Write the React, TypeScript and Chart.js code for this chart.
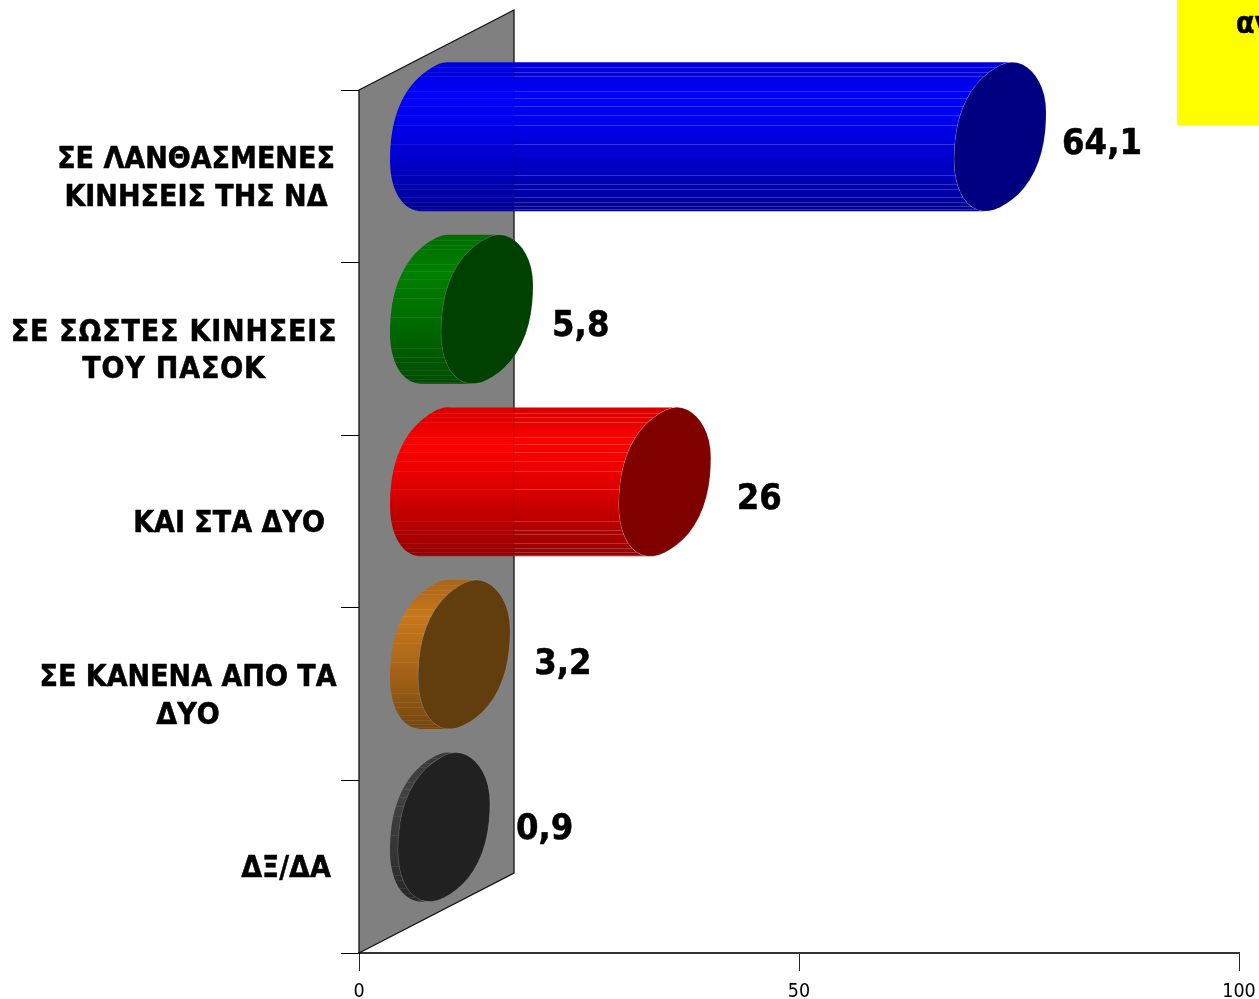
import React, { useEffect, useRef } from "react";
import { Chart, registerables } from "chart.js";

Chart.register(...registerables);

const categories = [
  ["ΣΕ ΛΑΝΘΑΣΜΕΝΕΣ", "ΚΙΝΗΣΕΙΣ ΤΗΣ ΝΔ"],
  ["ΣΕ ΣΩΣΤΕΣ ΚΙΝΗΣΕΙΣ", "ΤΟΥ ΠΑΣΟΚ"],
  ["ΚΑΙ ΣΤΑ ΔΥΟ"],
  ["ΣΕ ΚΑΝΕΝΑ ΑΠΟ ΤΑ", "ΔΥΟ"],
  ["ΔΞ/ΔΑ"],
];
const values = [64.1, 5.8, 26, 3.2, 0.9];
const valueTexts = ["64,1", "5,8", "26", "3,2", "0,9"];
const sideColors = [[0, 0, 255], [0, 128, 0], [255, 0, 0], [200, 120, 28], [66, 66, 66]];
const capColors = ["#000080", "#004000", "#800000", "#623d0e", "#212121"];
const labelCentres = [196, 174, 229, 188, 286];
const labelSpacing = [0, 0.8, 0, 0, 0];
const valueOffsets = [[139, -32], [142, -22], [149, -22], [147, -29], [149, -37]];
const streaks = [.04, .073, .1, .2, .247, .3, .36, .427, .553, .76, .82, .853, .907, .94, .967, .987];
const shadeStops = [[0, .84], [.25, 1], [.55, .86], [.85, .68], [1, .58]];
const boxText = "αν";

const WALL_DX = 155, WALL_DY = -80;
const A = 46, B = 23.7, C = 71;
const BOLD = "bold 36px 'DejaVu Sans Condensed', 'DejaVu Sans'";
const LABEL = "bold 30px 'DejaVu Sans Condensed', 'DejaVu Sans'";

function tracePath(ctx: any, cx: number, cy: number, from: number, to: number, first: boolean) {
  const n = 48;
  for (let i = 0; i <= n; i++) {
    const t = from + ((to - from) * i) / n;
    const c = Math.cos(t);
    const s = Math.sin(t);
    const w = Math.sin(2 * t);
    const f = w > 0 ? 1 + 0.055 * w * w : s < 0 ? 1 - 0.03 * w * w : 1;
    const x = cx + A * c * f;
    const y = cy + (-B * c + C * s) * f;
    if (i === 0 && first) ctx.moveTo(x, y);
    else ctx.lineTo(x, y);
  }
}

function heavyText(ctx: any, text: string, x: number, y: number) {
  ctx.lineWidth = 0.5;
  ctx.strokeStyle = "#000";
  ctx.lineJoin = "round";
  ctx.strokeText(text, x, y);
  ctx.fillText(text, x, y);
}

const cylinderPlugin = {
  id: "cylinder",
  beforeDatasetsDraw(chart: any) {
    const { ctx, chartArea: a } = chart;
    ctx.save();
    ctx.beginPath();
    ctx.moveTo(a.left, a.top);
    ctx.lineTo(a.left + WALL_DX, a.top + WALL_DY);
    ctx.lineTo(a.left + WALL_DX, a.bottom + WALL_DY);
    ctx.lineTo(a.left, a.bottom);
    ctx.closePath();
    ctx.fillStyle = "#808080";
    ctx.fill();
    ctx.strokeStyle = "#111";
    ctx.lineWidth = 1.3;
    ctx.stroke();
    ctx.restore();
  },
  afterDatasetsDraw(chart: any) {
    const { ctx, chartArea: a, scales } = chart;
    const meta = chart.getDatasetMeta(0);
    const R = 75;
    const tTop = Math.atan2(-C, B);
    const wallX = a.left + WALL_DX;
    meta.data.forEach((el: any, i: number) => {
      const cy = el.y + WALL_DY / 2;
      const x0 = scales.x.getPixelForValue(0) + WALL_DX / 2 - 0.5;
      const x1 = el.x + WALL_DX / 2 - 0.5;
      const [r, g, b] = sideColors[i];
      ctx.save();
      ctx.beginPath();
      tracePath(ctx, x0, cy, tTop, tTop - Math.PI, true);
      tracePath(ctx, x1, cy, tTop - Math.PI, tTop, false);
      ctx.closePath();
      const grad = ctx.createLinearGradient(0, cy - R, 0, cy + R);
      shadeStops.forEach(([p, s]) => grad.addColorStop(p, `rgb(${r * s},${g * s},${b * s})`));
      ctx.fillStyle = grad;
      ctx.fill();
      ctx.clip();
      streaks.forEach((f) => {
        const y = Math.round(cy - R + 2 * R * f) + 0.5;
        ctx.lineWidth = 1;
        ctx.strokeStyle = "rgba(255,255,255,0.07)";
        ctx.beginPath();
        ctx.moveTo(x0 - A, y);
        ctx.lineTo(wallX, y);
        ctx.stroke();
        ctx.strokeStyle = "rgba(255,255,255,0.2)";
        ctx.beginPath();
        ctx.moveTo(wallX, y);
        ctx.lineTo(x1 + A, y);
        ctx.stroke();
      });
      if (x1 > wallX) {
        ctx.strokeStyle = "rgba(0,0,0,0.14)";
        ctx.beginPath();
        ctx.moveTo(wallX, cy - R);
        ctx.lineTo(wallX, cy + R);
        ctx.stroke();
      }
      ctx.restore();

      ctx.save();
      ctx.beginPath();
      tracePath(ctx, x1, cy, 0, Math.PI * 2, true);
      ctx.closePath();
      ctx.fillStyle = capColors[i];
      ctx.fill();
      ctx.strokeStyle = "rgba(255,255,255,0.12)";
      ctx.lineWidth = 1;
      ctx.stroke();
      ctx.restore();

      ctx.save();
      ctx.fillStyle = "#000";
      ctx.font = BOLD;
      ctx.textAlign = "left";
      ctx.textBaseline = "middle";
      heavyText(ctx, valueTexts[i], el.x + valueOffsets[i][0], el.y + valueOffsets[i][1]);
      ctx.font = LABEL;
      ctx.textAlign = "center";
      ctx.letterSpacing = `${labelSpacing[i]}px`;
      const lines = categories[i];
      lines.forEach((line, k) => {
        heavyText(ctx, line, labelCentres[i], el.y + 3 + (k - (lines.length - 1) / 2) * 37.5);
      });
      ctx.letterSpacing = "0px";
      ctx.restore();
    });
    ctx.save();
    ctx.fillStyle = "#ffff00";
    ctx.fillRect(1177, 0, 82, 125);
    ctx.fillStyle = "#000";
    ctx.font = LABEL;
    ctx.textAlign = "left";
    ctx.textBaseline = "middle";
    heavyText(ctx, boxText, 1236, 25);
    ctx.restore();
  },
};

export default function App() {
  const ref = useRef<HTMLCanvasElement | null>(null);
  useEffect(() => {
    const chart = new Chart(ref.current as any, {
      type: "bar",
      data: {
        labels: categories as any,
        datasets: [{ data: values, backgroundColor: "transparent", borderWidth: 0 }],
      },
      plugins: [cylinderPlugin as any],
      options: {
        animation: false,
        responsive: false,
        indexAxis: "y",
        layout: { padding: { top: 90, right: 20, left: 0, bottom: 0 } },
        plugins: { legend: { display: false }, tooltip: { enabled: false } },
        scales: {
          x: {
            min: 0,
            max: 100,
            afterFit: (s: any) => { s.height = 46; s.paddingRight = 0; s.paddingLeft = 0; },
            border: { color: "#333", width: 2 },
            grid: { drawOnChartArea: false, color: "#222", tickLength: 18, tickColor: "#222" },
            ticks: {
              stepSize: 50,
              maxRotation: 0,
              padding: 9,
              color: "#000",
              font: { family: "'DejaVu Sans Condensed', 'DejaVu Sans'", size: 19.5 },
            },
          },
          y: {
            offset: true,
            afterFit: (s: any) => { s.width = 359; },
            border: { color: "#000", width: 1 },
            grid: { offset: true, drawOnChartArea: false, color: "#000", tickLength: 18, tickColor: "#000" },
            ticks: { display: false },
          },
        },
      } as any,
    });
    return () => chart.destroy();
  }, []);
  return (
    <canvas
      ref={ref}
      width={1259}
      height={999}
      style={{ position: "absolute", left: 0, top: 0, display: "block" }}
    />
  );
}
